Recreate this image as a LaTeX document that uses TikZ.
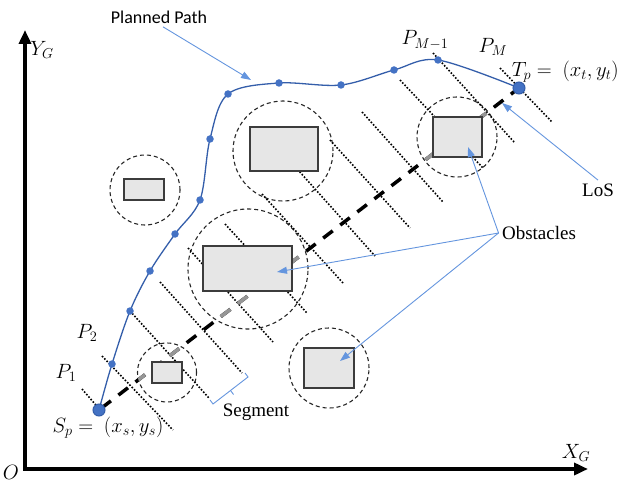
\documentclass[tikz,border=0pt]{standalone}
\usepackage{fontspec}
\setmainfont{Liberation Serif}
\newfontfamily\labelsans{Carlito}
\usetikzlibrary{arrows.meta,positioning,calc}

\definecolor{pathblue}{RGB}{52,94,170}
\definecolor{dotblue}{RGB}{68,114,196}
\definecolor{noteblue}{RGB}{100,149,222}
\definecolor{obstfill}{RGB}{230,230,230}
\definecolor{obstdraw}{RGB}{60,60,60}
\definecolor{losgray}{RGB}{150,150,150}

\begin{document}
\begin{tikzpicture}[
    x=1bp, y=-1bp,
    axis/.style={line width=3.5bp, {Triangle[length=14bp,width=12bp]}-{Triangle[length=14bp,width=12bp]}},
    obstacle/.style={draw=obstdraw, fill=obstfill, line width=1.4bp, inner sep=0pt},
    zone/.style={circle, draw=black!85, line width=1.1bp, dash pattern=on 4bp off 3bp, inner sep=0pt},
    normal/.style={line width=1.6bp, dash pattern=on 1.6bp off 1.7bp},
    los/.style={line width=3.5bp, dash pattern=on 12bp off 9.5bp, dash phase=18.5bp},
    wp/.style={circle, fill=dotblue, inner sep=0pt, minimum size=7.5bp},
    endpt/.style={circle, fill=dotblue, draw=pathblue, line width=1bp, inner sep=0pt, minimum size=12bp},
    note/.style={noteblue, line width=0.9bp, -{Triangle[length=10bp,width=7bp]}},
    mathlbl/.style={font=\fontsize{20bp}{22bp}\selectfont, inner sep=0pt},
    txt/.style={font=\fontsize{19bp}{22bp}\selectfont}
  ]
    \useasboundingbox (0,0) rectangle (622,484);

    % Axes
    \coordinate (orig0) at (25,469);
    \coordinate (ytop) at (25,30);
    \coordinate (xend) at (588,469);
    \draw[axis] (ytop) -- (orig0) -- (xend);
    \node[mathlbl] (yg) at (42,50) {$Y_G$};
    \node[mathlbl] (xg) at (576,453) {$X_G$};
    \node[mathlbl] (orig) at (11,472) {$O$};

    % Waypoints of the planned path
    \foreach \x/\y [count=\i from 0] in {99/410, 112/364, 130/311, 150/271, 175/234, 200/200,
        210/139, 228/94, 279/83, 341/85, 394/70, 438/60, 519/88}
      \coordinate (p\i) at (\x,\y);

    % Safety zones
    \node[zone, minimum size=100bp] (zn1) at (283,151) {};
    \node[zone, minimum size=120bp] (zn2) at (248,269) {};
    \node[zone, minimum size=59bp] (zn3) at (167,372.5) {};
    \node[zone, minimum size=80bp] (zn4) at (457,137) {};
    \node[zone, minimum size=80bp] (zn5) at (329,368) {};
    \node[zone, minimum size=70bp] (zn6) at (145,190) {};

    % Normals to the LoS
    \foreach \a/\b/\c/\d in {82/389/101/411, 102/356/173/430, 130/311/209/398, 160/282/242/373,
        188/248/273/342, 225/224/307/313, 262/194/343/283, 282/152/375/256, 330/140/410/228,
        362/112/443/202, 400/80/483/168, 433/53/515/143, 500/68/552/122}
      \draw[normal] (\a,\b) -- (\c,\d);

    % LoS
    \draw[los] (p0) -- (p12);
    \begin{scope}
      \clip (zn2.center) circle[radius=60] (zn3.center) circle[radius=29.5] (zn4.center) circle[radius=40];
      \draw[los, losgray] (p0) -- (p12);
    \end{scope}

    % Obstacles
    \node[obstacle, minimum width=68bp, minimum height=44bp] (ob1) at (284,149) {};
    \node[obstacle, minimum width=89bp, minimum height=45bp] (ob2) at (247.5,268.5) {};
    \node[obstacle, minimum width=30bp, minimum height=21bp] (ob3) at (167,372.5) {};
    \node[obstacle, minimum width=49bp, minimum height=40bp] (ob4) at (457.5,137) {};
    \node[obstacle, minimum width=50bp, minimum height=40bp] (ob5) at (329,368) {};
    \node[obstacle, minimum width=40bp, minimum height=21bp] (ob6) at (144,189.5) {};

    % Planned path
    \draw[pathblue, line width=1.3bp] plot[smooth, tension=0.55] coordinates {(p0) (p1) (p2) (p3) (p4) (p5) (p6) (p7) (p8) (p9) (p10) (p11) (p12)};
    \foreach \i in {1,...,11}
      \node[wp] (wp\i) at (p\i) {};
    \node[endpt] (start) at (p0) {};
    \node[endpt] (target) at (p12) {};

    % Labels
    \node[mathlbl] (sl) at (108,428) {$S_p =\ (x_s, y_s)$};
    \node[mathlbl, anchor=east] (tl) at (619,72) {$T_p =\ (x_t, y_t)$};
    \node[mathlbl] (p1l) at (66,373) {$P_1$};
    \node[mathlbl] (p2l) at (87,333) {$P_2$};
    \node[mathlbl] (pm1l) at (425,40) {$P_{M-1}$};
    \node[mathlbl] (pml) at (493,47) {$P_M$};

    \node[font=\labelsans\fontsize{18bp}{20bp}\selectfont] (plan) at (159,17) {Planned Path};
    \node[txt] (obst) at (539,233) {Obstacles};
    \node[txt] (losl) at (598,190) {LoS};
    \node[txt] (segl) at (256,412) {Segment};

    % Segment bracket
    \coordinate (br1) at (213,404);
    \coordinate (br2) at (248,377);
    \draw[noteblue, line width=0.9bp] ($(br1)+(-3,-4)$) -- (br1) -- (br2) -- ($(br2)+(-3,-4)$);
    \draw[noteblue, line width=0.9bp] ($(br1)!0.5!(br2)$) -- ++(3,4);

    % Annotation arrows
    \coordinate (pathtip) at (251,80);
    \coordinate (lostip) at (502,103);
    \draw[note] ($(plan.south)+(4,0)$) -- (pathtip);
    \draw[note] (losl.north) -- (lostip);
    \draw[note] (obst.west) -- ($(ob4.center)+(10.5,10)$);
    \draw[note] (obst.west) -- ($(ob2.center)+(29.5,3.5)$);
    \draw[note] (obst.west) -- ($(ob5.center)+(11,-7)$);
  \end{tikzpicture}
\end{document}
